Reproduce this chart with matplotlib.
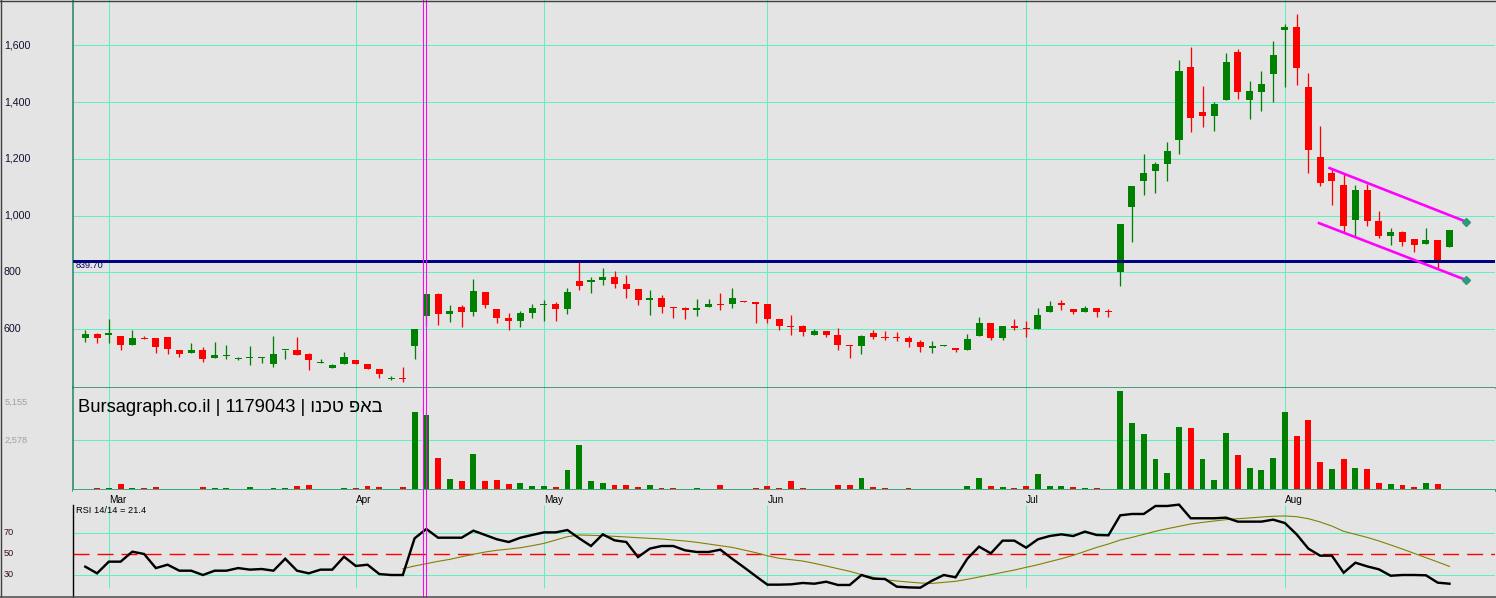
import numpy as np
import matplotlib
matplotlib.use('Agg')
import matplotlib.pyplot as plt
from matplotlib.transforms import blended_transform_factory
from matplotlib.lines import Line2D

plt.rcParams['font.family'] = ['Liberation Sans', 'DejaVu Sans']
plt.rcParams['lines.scale_dashes'] = False

# ---------------- DATA ----------------
opens = [569.4, 582.4, 580.0, 575.3, 544.7, 568.2, 568.2, 571.8, 525.9, 516.5,
         525.9, 498.9, 505.9, 495.3, 498.9, 498.9, 477.7, 524.7, 525.9, 511.8,
         478.9, 463.6, 477.7, 490.6, 476.5, 458.9, 424.8, 428.3, 541.2, 647.0,
         723.5, 654.1, 677.6, 661.2, 730.5, 670.6, 638.8, 629.4, 657.6, 685.8,
         688.2, 670.6, 769.3, 767.0, 772.9, 783.5, 758.8, 741.1, 703.5, 709.4,
         677.6, 674.1, 668.2, 678.8, 688.2, 688.2, 698.8, 695.3, 688.2, 635.3,
         610.6, 610.6, 580.0, 592.9, 578.8, 543.6, 541.2, 585.9, 573.0, 573.0,
         568.2, 554.1, 534.1, 541.2, 533.0, 527.1, 576.5, 621.2, 569.4, 610.6,
         603.5, 601.2, 661.2, 691.7, 670.6, 661.2, 674.1, 662.3, 802.4, 1031.6,
         1123.3, 1158.6, 1183.3, 1267.9, 1524.2, 1365.5, 1352.6, 1409.0, 1577.1, 1409.0,
         1437.2, 1500.7, 1655.9, 1665.3, 1453.7, 1206.8, 1150.4, 1108.0, 985.8, 1090.4,
         981.1, 929.3, 941.1, 916.4, 901.1, 914.0, 890.5]
highs = [596.5, 587.1, 635.3, 575.3, 596.5, 575.3, 568.2, 571.8, 525.9, 551.8,
         536.5, 554.1, 543.6, 502.4, 540.0, 501.2, 575.3, 527.1, 571.8, 514.2,
         493.0, 476.5, 518.9, 490.6, 476.5, 458.9, 434.2, 466.0, 598.8, 723.5,
         727.0, 684.7, 684.7, 776.4, 730.5, 670.6, 656.4, 663.5, 688.2, 702.3,
         695.3, 744.6, 837.5, 783.5, 814.0, 804.6, 790.5, 741.1, 737.6, 720.0,
         677.6, 677.6, 705.8, 705.8, 727.0, 744.6, 698.8, 695.3, 688.2, 635.3,
         649.4, 614.1, 600.0, 592.9, 603.5, 543.6, 578.8, 596.5, 592.9, 589.4,
         573.8, 561.2, 557.7, 543.6, 533.0, 582.4, 642.3, 621.2, 610.6, 635.3,
         628.2, 674.1, 698.8, 702.3, 670.6, 681.1, 674.1, 670.6, 970.5, 1104.5,
         1217.4, 1189.2, 1259.7, 1548.9, 1594.8, 1457.2, 1400.8, 1573.6, 1587.7, 1474.8,
         1510.1, 1615.9, 1675.9, 1711.2, 1503.1, 1316.1, 1163.3, 1146.8, 1108.0, 1112.7,
         1016.3, 956.4, 945.8, 916.4, 956.4, 914.0, 949.3]
lows = [554.1, 551.8, 551.8, 525.9, 544.7, 565.9, 516.5, 511.8, 502.4, 516.5,
        484.8, 498.9, 494.2, 490.6, 473.0, 481.2, 466.0, 494.2, 508.3, 455.4,
        478.9, 463.6, 477.7, 477.7, 460.0, 428.3, 420.1, 411.8, 495.3, 611.8,
        615.3, 625.9, 608.2, 647.0, 675.3, 622.3, 597.6, 608.2, 640.0, 629.4,
        629.4, 652.9, 738.8, 727.0, 755.2, 744.6, 709.4, 684.7, 649.4, 657.6,
        640.0, 636.5, 647.0, 678.8, 668.2, 675.3, 696.4, 622.3, 622.3, 597.6,
        580.0, 576.5, 580.0, 573.0, 527.1, 498.9, 513.0, 565.9, 562.4, 558.8,
        537.7, 520.0, 516.5, 541.2, 520.0, 527.1, 576.5, 562.4, 562.4, 597.6,
        573.0, 601.2, 661.2, 667.0, 654.1, 661.2, 643.5, 643.5, 751.8, 908.2,
        1073.9, 1081.0, 1123.3, 1218.5, 1296.1, 1313.8, 1299.7, 1409.0, 1412.5, 1342.0,
        1370.2, 1402.0, 1454.9, 1461.9, 1151.5, 1105.7, 1038.7, 943.4, 928.2, 964.6,
        922.3, 897.6, 894.1, 872.9, 901.1, 816.5, 890.5]
closes = [582.4, 569.4, 585.9, 544.7, 568.2, 565.9, 537.7, 528.3, 513.0, 525.9,
          495.3, 508.3, 509.0, 497.7, 501.2, 501.2, 511.8, 527.1, 508.3, 490.6,
          481.2, 473.0, 501.2, 477.7, 460.0, 442.4, 428.3, 424.8, 598.8, 723.5,
          654.1, 663.5, 661.2, 734.1, 684.7, 640.0, 629.4, 656.4, 674.1, 688.2,
          670.6, 730.5, 751.7, 772.9, 783.5, 758.8, 741.1, 703.5, 709.4, 678.8,
          675.3, 668.2, 674.1, 688.2, 685.8, 709.4, 696.4, 688.2, 636.5, 611.8,
          608.2, 590.6, 592.9, 580.0, 544.7, 541.2, 575.3, 573.0, 569.4, 569.4,
          555.3, 537.7, 540.0, 543.6, 527.1, 564.7, 621.2, 569.4, 610.6, 603.5,
          601.2, 649.4, 681.1, 684.7, 661.2, 674.1, 661.2, 660.0, 970.5, 1104.5,
          1150.4, 1182.1, 1228.0, 1510.1, 1345.5, 1352.6, 1393.7, 1541.9, 1435.0, 1438.0,
          1464.3, 1566.6, 1665.3, 1521.9, 1232.7, 1116.3, 1123.3, 964.6, 1090.4, 982.2,
          929.3, 941.1, 908.2, 897.6, 914.0, 843.5, 949.3]
volumes = [0, 70, 70, 280, 70, 70, 123, 0, 0, 0,
           123, 70, 70, 0, 123, 0, 70, 70, 175, 228,
           0, 0, 70, 70, 175, 123, 0, 123, 4069, 3911,
           1649, 526, 438, 1859, 438, 491, 281, 333, 175, 175,
           123, 1017, 2333, 438, 333, 228, 228, 123, 228, 70,
           70, 0, 70, 0, 228, 0, 0, 70, 175, 70,
           438, 70, 0, 0, 228, 228, 596, 123, 70, 0,
           70, 0, 0, 0, 0, 175, 596, 175, 123, 70,
           175, 807, 175, 175, 123, 70, 70, 0, 5155, 3490,
           2912, 1596, 859, 3280, 3227, 1596, 491, 2964, 1807, 1123,
           1017, 1649, 4069, 2806, 3648, 1438, 1070, 1596, 1123, 1070,
           333, 281, 228, 123, 333, 281, 0]
rsi = [37.6, 31.3, 42.4, 42.4, 51.9, 49.7, 36.3, 39.5, 33.8, 33.8,
       29.7, 33.8, 33.8, 36.3, 34.8, 35.4, 33.8, 45.2, 33.8, 31.3,
       34.8, 34.8, 47.1, 38.3, 39.5, 30.6, 29.7, 29.7, 64.6, 73.5,
       65.2, 65.2, 65.2, 71.9, 67.8, 63.7, 61.1, 65.2, 67.8, 70.3,
       70.3, 72.5, 64.6, 57.3, 68.4, 62.7, 61.1, 46.8, 54.8, 57.3,
       57.3, 53.2, 51.6, 51.6, 53.8, 45.2, 37.1, 28.7, 20.5, 20.5,
       20.8, 22.1, 21.4, 23.3, 20.2, 20.2, 29.7, 26.2, 25.9, 18.6,
       17.9, 17.6, 24.3, 29.7, 27.5, 45.2, 56.7, 50.3, 62.4, 62.4,
       55.7, 63.7, 66.8, 68.4, 66.8, 71.0, 67.8, 67.5, 86.5, 87.8,
       87.8, 95.4, 95.4, 96.7, 83.7, 83.7, 83.7, 84.3, 80.5, 80.5,
       80.5, 82.4, 79.2, 68.4, 54.8, 48.1, 48.1, 31.9, 41.4, 37.9,
       35.1, 29.0, 29.7, 29.7, 29.4, 22.4, 21.4]
rsi_ma_start = 27
rsi_ma = [35.7, 38.3, 40.5, 42.7, 44.6, 47.1, 49.4, 51.6, 53.2, 54.4,
          55.7, 57.6, 59.8, 63.0, 66.2, 67.8, 67.5, 67.1, 66.5, 65.9,
          65.2, 64.6, 64.0, 63.0, 62.1, 60.8, 59.2, 57.6, 56.0, 53.5,
          51.0, 48.0, 45.6, 44.3, 43.0, 40.8, 38.3, 35.7, 33.2, 30.0,
          27.5, 25.2, 24.0, 23.0, 22.1, 21.7, 22.7, 23.7, 25.6, 27.8,
          30.0, 32.2, 34.4, 37.0, 39.5, 42.4, 45.2, 48.4, 52.2, 56.0,
          59.2, 63.0, 65.5, 68.4, 71.3, 73.8, 76.0, 78.3, 79.8, 81.1,
          82.4, 83.3, 84.0, 84.9, 85.6, 85.9, 85.2, 83.3, 80.2, 76.3,
          71.3, 68.4, 65.5, 62.1, 58.3, 54.4, 50.3, 46.2, 42.1, 37.9]
month_labels = ['Mar', 'Apr', 'May', 'Jun', 'Jul', 'Aug']
month_idx = [2, 23, 39, 58, 80, 102]
price_ticks = [600, 800, 1000, 1200, 1400, 1600]
price_tick_labels = ['600', '800', '1,000', '1,200', '1,400', '1,600']
vol_ticks = [2578, 5155]
vol_tick_labels = ['2,578', '5,155']
rsi_ticks = [30, 50, 70]
rsi_tick_labels = ['30', '50', '70']
support_level = 839.70
support_label = '839.70'
marker_lines = [28.69, 28.93]
channel_upper_x = [105.7, 117.4]
channel_upper_y = [1169.2, 978.7]
channel_lower_x = [104.8, 117.4]
channel_lower_y = [975.2, 773.0]
title_text = 'Bursagraph.co.il | 1179043 | ' + 'ונכט פאב'
rsi_label = 'RSI 14/14 = 21.4'

# ---------------- STYLE ----------------
W, H = 1496, 598
BG = '#e4e4e4'
GRID = '#5ef0c0'
GREEN = '#008000'
RED = '#ff0000'
AXC = '#2b8a66'
PX = 72 / 100.0  # points per pixel

fig = plt.figure(figsize=(W / 100, H / 100), dpi=100)
fig.patch.set_facecolor(BG)


def rect(l, t, r, b):
    return [l / W, 1 - b / H, (r - l) / W, (b - t) / H]


ax_p = fig.add_axes(rect(73, 0, 1495, 387.5))
ax_v = fig.add_axes(rect(73, 387.5, 1495, 489.5))
ax_r = fig.add_axes(rect(73, 489.5, 1495, 598))

xlim = (-1.046, 119.87)
for ax in (ax_p, ax_v, ax_r):
    ax.set_facecolor(BG)
    ax.set_xlim(*xlim)
    ax.set_xticks([])
    ax.set_yticks([])
    for s in ax.spines.values():
        s.set_visible(False)

ax_p.set_ylim(393.6, 1760.5)
ax_v.set_ylim(-10, 5356)
ax_r.set_ylim(7.8, 111.1)

n = len(closes)
x = np.arange(n)
o = np.array(opens)
c = np.array(closes)
h = np.array(highs)
lo = np.array(lows)

GLW = 1.0 * PX

# ---- price panel ----
for y in price_ticks:
    ax_p.axhline(y, color=GRID, lw=GLW, zorder=1)
for m in month_idx:
    ax_p.axvline(m, color=GRID, lw=GLW, zorder=1)

up = c >= o
cols = np.where(up, GREEN, RED)
ax_p.vlines(x, lo, h, colors=cols, lw=1.3 * PX, zorder=3)
body_bottom = np.minimum(o, c)
body_h = np.maximum(np.abs(c - o), 4.0)
ax_p.bar(x, body_h, bottom=body_bottom, width=0.6, color=cols, linewidth=0, zorder=4)

ax_p.axhline(support_level, color='#000080', lw=3 * PX, zorder=5)
ax_p.text(75.5 / W, support_level, support_label, transform=blended_transform_factory(fig.transFigure, ax_p.transData),
          ha='left', va='top', fontsize=6.6, color='#000060', zorder=6)

ax_p.plot(channel_upper_x, channel_upper_y, color='#ff00ff', lw=2.6 * PX, zorder=6, solid_capstyle='butt')
ax_p.plot(channel_lower_x, channel_lower_y, color='#ff00ff', lw=2.6 * PX, zorder=6, solid_capstyle='butt')
ax_p.plot([channel_upper_x[1], channel_lower_x[1]], [channel_upper_y[1], channel_lower_y[1]],
          ls='none', marker='D', ms=4.5, color='#2e9a7a', zorder=7)

tp = blended_transform_factory(fig.transFigure, ax_p.transData)
for y, lab in zip(price_ticks, price_tick_labels):
    ax_p.text(4 / W, y, lab, transform=tp, ha='left', va='center', fontsize=7.7, color='#101030')

ax_p.spines['left'].set_visible(True)
ax_p.spines['left'].set_color(AXC)
ax_p.spines['left'].set_linewidth(1.6 * PX)
ax_p.spines['bottom'].set_visible(True)
ax_p.spines['bottom'].set_color(AXC)
ax_p.spines['bottom'].set_linewidth(1.6 * PX)

# ---- volume panel ----
ax_v.axhline(vol_ticks[0], color=GRID, lw=GLW, zorder=1)
for m in month_idx:
    ax_v.axvline(m, color=GRID, lw=GLW, zorder=1)
prev = np.concatenate([[c[0]], c[:-1]])
vcols = np.where(c >= prev, GREEN, RED)
ax_v.bar(x, volumes, width=0.5, color=vcols, linewidth=0, zorder=3)
tv = blended_transform_factory(fig.transFigure, ax_v.transData)
ax_v.text(5 / W, vol_ticks[0], vol_tick_labels[0], transform=tv, ha='left', va='center', fontsize=6.7, color='#a0a0a8')
ax_v.text(5 / W, 1 - 402 / H, vol_tick_labels[1], transform=fig.transFigure, ha='left', va='center',
          fontsize=6.7, color='#a0a0a8')
ax_v.text(78.5 / W, 1 - 411.7 / H, title_text, transform=fig.transFigure, ha='left', va='baseline',
          fontsize=13.2, color='#000000', zorder=6)
ax_v.spines['left'].set_visible(True)
ax_v.spines['left'].set_color(AXC)
ax_v.spines['left'].set_linewidth(1.6 * PX)
ax_v.spines['bottom'].set_visible(True)
ax_v.spines['bottom'].set_color('#169a68')
ax_v.spines['bottom'].set_linewidth(2.6 * PX)

# ---- RSI panel ----
for y in (70, 30):
    ax_r.axhline(y, color=GRID, lw=GLW, zorder=1)
ax_r.vlines(month_idx, 17.3, 96.4, colors=GRID, lw=GLW, zorder=1)
ax_r.axhline(50, color=RED, lw=1.4 * PX, dashes=(11.5, 5.8), zorder=2)
ax_r.plot(np.arange(rsi_ma_start, rsi_ma_start + len(rsi_ma)), rsi_ma, color='#808000', lw=1.1 * PX, zorder=3)
ax_r.plot(x, rsi, color='black', lw=2.4 * PX, zorder=4, solid_joinstyle='miter')
tr = blended_transform_factory(fig.transFigure, ax_r.transData)
for y, lab in zip(rsi_ticks, rsi_tick_labels):
    ax_r.text(4 / W, y, lab, transform=tr, ha='left', va='center', fontsize=6.6, color='#3a1020')
ax_r.text(76.5 / W, 1 - 512.7 / H, rsi_label, transform=fig.transFigure, ha='left', va='baseline',
          fontsize=6.7, color='black')
for m, lab in zip(month_idx, month_labels):
    ax_r.text(m, 1 - 503.3 / H, lab, transform=blended_transform_factory(ax_r.transData, fig.transFigure),
              ha='left', va='baseline', fontsize=7.2, color='black')
ax_r.spines['left'].set_visible(True)
ax_r.spines['left'].set_color('black')
ax_r.spines['left'].set_linewidth(1.4 * PX)
ax_r.spines['left'].set_bounds(7.8, 96.4)

# ---- magenta marker lines across all panels ----
for ax in (ax_p, ax_v, ax_r):
    for mx in marker_lines:
        ax.axvline(mx, color='#ff00ff', lw=1.0 * PX, zorder=8, antialiased=False)

# ---- figure border ----
bc = '#404040'
fig.add_artist(Line2D([0, 1], [1 - 0.5 / H, 1 - 0.5 / H], transform=fig.transFigure, color=bc, lw=1.4 * PX))
fig.add_artist(Line2D([0.5 / W, 0.5 / W], [0, 1], transform=fig.transFigure, color=bc, lw=1.4 * PX))
fig.add_artist(Line2D([0, 1], [1.0 / H, 1.0 / H], transform=fig.transFigure, color='#505050', lw=1.6 * PX))

fig.savefig('out.png', dpi=100, facecolor=BG)
